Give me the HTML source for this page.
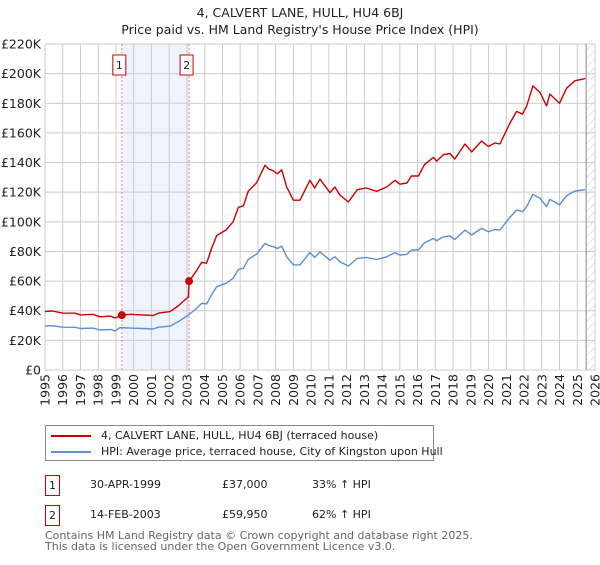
<!DOCTYPE html>
<html><head><meta charset="utf-8"><style>
body{margin:0;background:#fff;width:600px;height:560px;overflow:hidden;font-family:"Liberation Sans","DejaVu Sans",sans-serif}
svg text{font-family:"DejaVu Sans","Liberation Sans",sans-serif}
</style></head><body>
<svg id="c" width="600" height="560">
<defs><pattern id="hatch" width="6" height="6" patternUnits="userSpaceOnUse" patternTransform="rotate(45)"><line x1="0" y1="0" x2="0" y2="6" stroke="#ccc" stroke-width="1"/></pattern></defs>
<text x="300" y="17" text-anchor="middle" font-size="12.5" fill="#222">4, CALVERT LANE, HULL, HU4 6BJ</text>
<text x="300" y="34" text-anchor="middle" font-size="12.5" fill="#222">Price paid vs. HM Land Registry's House Price Index (HPI)</text>
<g id="grid"></g><g id="marks"></g>
</svg>
<script>
const yearTicks=[1995,1996,1997,1998,1999,2000,2001,2002,2003,2004,2005,2006,2007,2008,2009,2010,2011,2012,2013,2014,2015,2016,2017,2018,2019,2020,2021,2022,2023,2024,2025,2026];
const valueTicks=[0,20,40,60,80,100,120,140,160,180,200,220];
const valueTickLabels=["£0","£20K","£40K","£60K","£80K","£100K","£120K","£140K","£160K","£180K","£200K","£220K"];
const hpiYears=[1995.0,1995.4,1996.0,1996.7,1997.0,1997.7,1998.1,1998.7,1998.95,1999.23,1999.8,2000.5,2001.1,2001.4,2002.05,2002.5,2003.08,2003.5,2003.83,2004.11,2004.4,2004.68,2005.2,2005.6,2005.9,2006.18,2006.46,2006.93,2007.4,2007.6,2007.87,2008.1,2008.34,2008.62,2009.0,2009.37,2009.93,2010.2,2010.5,2011.06,2011.34,2011.62,2012.1,2012.6,2013.1,2013.7,2014.26,2014.73,2015.0,2015.4,2015.66,2016.04,2016.4,2016.9,2017.07,2017.45,2017.83,2018.1,2018.67,2019.05,2019.6,2019.99,2020.36,2020.64,2021.2,2021.58,2021.92,2022.15,2022.5,2022.9,2023.27,2023.46,2024.0,2024.4,2024.87,2025.34,2025.45];
const hpiValues=[29.7,29.9,28.9,28.8,28.0,28.3,27.0,27.4,26.4,28.6,28.3,28.0,27.7,28.9,29.6,32.5,37.1,41,45,44.6,51,56.2,58.5,61.9,67.9,68.6,74.7,78.3,85.5,84,83.2,82,83.6,76.5,70.9,70.9,79.2,76,79.7,74.1,76.4,73,70.2,75.3,76,74.6,76.4,79.2,77.6,78.1,81,81,85.9,88.8,87.2,89.9,90.4,88.1,94.4,91.1,95.6,93.3,94.8,94.4,103,108,106.9,110.3,118.6,115.9,110.3,115.2,111.4,117.7,120.8,121.5,121.8];
const propYears=[1995.0,1995.4,1996.0,1996.7,1997.0,1997.7,1998.1,1998.7,1998.95,1999.33,1999.8,2000.5,2001.1,2001.4,2002.05,2002.5,2003.08,2003.12,2003.5,2003.83,2004.11,2004.4,2004.68,2005.2,2005.6,2005.9,2006.18,2006.46,2006.93,2007.4,2007.6,2007.87,2008.1,2008.34,2008.62,2009.0,2009.37,2009.93,2010.2,2010.5,2011.06,2011.34,2011.62,2012.1,2012.6,2013.1,2013.7,2014.26,2014.73,2015.0,2015.4,2015.66,2016.04,2016.4,2016.9,2017.07,2017.45,2017.83,2018.1,2018.67,2019.05,2019.6,2019.99,2020.36,2020.64,2021.2,2021.58,2021.92,2022.15,2022.5,2022.9,2023.27,2023.46,2024.0,2024.4,2024.87,2025.34,2025.45];
const propValues=[39.5,39.8,38.4,38.3,37.2,37.6,35.9,36.4,35.1,37.0,37.6,37.2,36.8,38.4,39.4,43.2,49.3,59.95,66.3,72.7,72.1,82.4,90.8,94.5,100,109.7,110.9,120.7,126.5,138.2,135.7,134.4,132.5,135.1,123.6,114.6,114.6,128,122.8,128.8,119.7,123.5,118,113.4,121.7,122.8,120.6,123.5,128,125.4,126.2,130.9,130.9,138.8,143.5,140.9,145.3,146.1,142.4,152.5,147.2,154.5,150.8,153.2,152.5,166.4,174.5,172.7,178.2,191.7,187.3,178.2,186.2,180,190.2,195.2,196.3,196.8];
const saleYears=[1999.33,2003.12];
const saleValues=[37.0,59.95];
const saleLabels=["1","2"];
const dataEnd=2025.5;

const X0=45,X1=595,Y0=370,Y1=44;
const xs=y=>X0+(y-1995)/(2026-1995)*(X1-X0);
const ys=v=>Y0-v/220*(Y0-Y1);
const NS="http://www.w3.org/2000/svg";
function mk(tag,attrs,parent,txt){const e=document.createElementNS(NS,tag);for(const k in attrs)e.setAttribute(k,attrs[k]);if(txt!=null)e.textContent=txt;parent.appendChild(e);return e;}
const grid=document.getElementById('grid'),marks=document.getElementById('marks');
let sh=mk('rect',{x:xs(saleYears[0]),y:Y1,width:xs(saleYears[1])-xs(saleYears[0]),height:Y0-Y1,fill:'#eef3fc'},grid);


let ht=mk('rect',{x:xs(dataEnd),y:Y1,width:X1-xs(dataEnd),height:Y0-Y1,fill:'url(#hatch)'},grid);


valueTicks.forEach((v,i)=>{
  mk('line',{x1:X0,x2:X1,y1:ys(v),y2:ys(v),stroke:'#ccc','stroke-width':1},grid);
  const t=mk('text',{x:X0-4,y:ys(v)+4.5,'text-anchor':'end','font-size':12.5,fill:'#222'},grid,valueTickLabels[i]);
  
  
});
yearTicks.forEach(y=>{
  mk('line',{x1:xs(y),x2:xs(y),y1:Y1,y2:Y0,stroke:'#ccc','stroke-width':1},grid);
  const t=mk('text',{x:0,y:0,'text-anchor':'end','font-size':12.5,fill:'#222',transform:`translate(${xs(y)+4.5},${Y0+4}) rotate(-90)`},grid,String(y));
  
  
});
mk('line',{x1:xs(dataEnd),x2:xs(dataEnd),y1:Y1,y2:Y0,stroke:'#888','stroke-width':1},grid);
saleYears.forEach((y,i)=>{
  const l=mk('line',{x1:xs(y),x2:xs(y),y1:Y1,y2:Y0,stroke:'#f77','stroke-width':1,'stroke-dasharray':'2,2'},grid);
  
  
  const bx=mk('rect',{x:xs(y)-9,y:55,width:13,height:20,fill:'#fff',stroke:'#c00','stroke-width':1},marks);
  
  
  mk('text',{x:xs(y)-2.5,y:69,'text-anchor':'middle','font-size':11,fill:'#222'},marks,saleLabels[i]);
});
function path(xa,va,color,name){
  const d=xa.map((y,i)=>(i?'L':'M')+xs(y).toFixed(1)+','+ys(va[i]).toFixed(1)).join('');
  const p=mk('path',{d:d,fill:'none',stroke:color,'stroke-width':1.4,'stroke-linejoin':'round'},marks);
  
  
}
path(hpiYears,hpiValues,'#5b8ed6','hpi-line');
path(propYears,propValues,'#cc0000','property-price-line');
saleYears.forEach((y,i)=>{
  const c=mk('circle',{cx:xs(y),cy:ys(saleValues[i]),r:4,fill:'#cc0000'},marks);
  
  
});
</script>
<div style="position:absolute;left:45px;top:425px;width:389px;height:36px;border:1px solid #888;box-sizing:border-box;font-family:'DejaVu Sans','Liberation Sans',sans-serif;font-size:11px;color:#222">
 <div style="position:absolute;left:5px;top:3px;white-space:nowrap"><span style="display:inline-block;width:40px;height:2px;background:#cc0000;vertical-align:middle;margin-right:10px"></span>4, CALVERT LANE, HULL, HU4 6BJ (terraced house)</div>
 <div style="position:absolute;left:5px;top:19px;white-space:nowrap"><span style="display:inline-block;width:40px;height:2px;background:#5b8ed6;vertical-align:middle;margin-right:10px"></span>HPI: Average price, terraced house, City of Kingston upon Hull</div>
</div>
<div style="position:absolute;left:0;top:0;font-family:'DejaVu Sans','Liberation Sans',sans-serif;font-size:11px;color:#222">
 <div>
  <div style="position:absolute;left:45px;top:475px;width:13px;height:19px;border:1px solid #c00;text-align:center;line-height:19px">1</div>
  <div style="position:absolute;left:90px;top:478px;white-space:nowrap">30-APR-1999</div>
  <div style="position:absolute;left:222px;top:478px;white-space:nowrap">£37,000</div>
  <div style="position:absolute;left:312px;top:478px;white-space:nowrap">33% ↑ HPI</div>
 </div>
 <div>
  <div style="position:absolute;left:45px;top:505px;width:13px;height:19px;border:1px solid #c00;text-align:center;line-height:19px">2</div>
  <div style="position:absolute;left:90px;top:508px;white-space:nowrap">14-FEB-2003</div>
  <div style="position:absolute;left:222px;top:508px;white-space:nowrap">£59,950</div>
  <div style="position:absolute;left:312px;top:508px;white-space:nowrap">62% ↑ HPI</div>
 </div>
</div>
<div style="position:absolute;left:45px;top:530px;font-family:'DejaVu Sans','Liberation Sans',sans-serif;font-size:11px;line-height:11px;color:#666;white-space:nowrap">Contains HM Land Registry data © Crown copyright and database right 2025.<br>This data is licensed under the Open Government Licence v3.0.</div>
</body></html>
